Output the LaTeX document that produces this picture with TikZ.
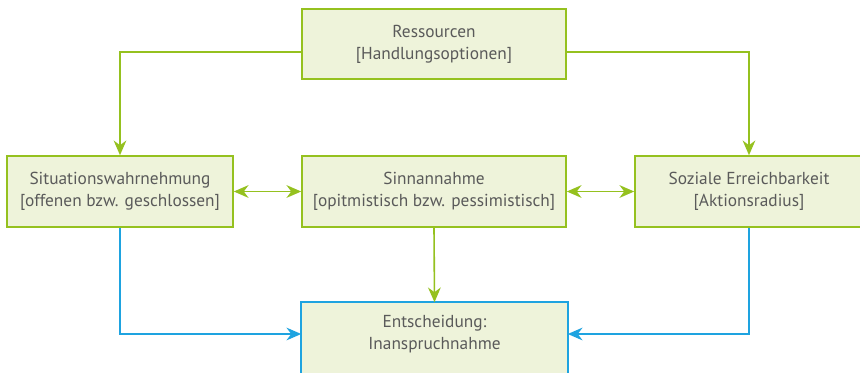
\documentclass[tikz,border=0pt]{standalone}
\usepackage{fontspec}
\setmainfont{PT Sans}
\usetikzlibrary{arrows.meta,backgrounds}
\definecolor{lgreen}{HTML}{95C11F}
\definecolor{lfill}{HTML}{EEF3DA}
\definecolor{lblue}{HTML}{1EA3E0}
\definecolor{ltext}{HTML}{5A5A5A}
\tikzset{
  box/.style={draw=lgreen, line width=1.2pt, fill=lfill, text=ltext, align=center,
    font=\fontsize{13}{16.5}\selectfont, inner sep=0pt},
  garrow/.style={draw=lgreen, line width=1.2pt, -{Stealth[length=11pt,width=9.5pt,inset=3.5pt]}},
  gdarrow/.style={draw=lgreen, line width=1.2pt, {Stealth[length=11pt,width=9.5pt,inset=3.5pt]}-{Stealth[length=11pt,width=9.5pt,inset=3.5pt]}},
  barrow/.style={draw=lblue, line width=1.2pt, -{Stealth[length=11pt,width=9.5pt,inset=3.5pt]}},
}
\begin{document}
\begin{tikzpicture}[x=0.75pt,y=-0.75pt]
\clip (0,0) rectangle (860,372);
\node[box, minimum width=264*0.75pt, minimum height=70*0.75pt] (r) at (434,44) {Ressourcen\\{[}Handlungsoptionen{]}};
\node[box, minimum width=226*0.75pt, minimum height=71*0.75pt] (s) at (120,191.5) {Situationswahrnehmung\\{[}offenen bzw. geschlossen{]}};
\node[box, minimum width=264*0.75pt, minimum height=71*0.75pt] (m) at (434,191.5) {Sinnannahme\\{[}opitmistisch bzw. pessimistisch{]}};
\node[box, minimum width=228*0.75pt, minimum height=71*0.75pt] (z) at (749,191.5) {Soziale Erreichbarkeit\\{[}Aktionsradius{]}};
\node[box, draw=none, fill=none, minimum width=265*0.75pt, minimum height=62*0.75pt] (e) at (434.5,334) {Entscheidung:\\Inanspruchnahme};
\begin{scope}[on background layer]
\fill[white] (0,0) rectangle (860,372);
\draw[draw=lblue, line width=1.2pt, fill=lfill] (e.north west) rectangle ([yshift=-30pt]e.south east);
\end{scope}
\coordinate (rl) at ([yshift=-6pt]r.west);
\coordinate (rr) at ([yshift=-6pt]r.east);
\draw[garrow] (rl) -| (s.north);
\draw[garrow] (rr) -| (z.north);
\draw[gdarrow] (s.east) -- (m.west);
\draw[gdarrow] (m.east) -- (z.west);
\draw[garrow] (m.south) -- (e.north);
\draw[barrow] (s.south) |- (e.west);
\draw[barrow] (z.south) |- (e.east);
\end{tikzpicture}
\end{document}
